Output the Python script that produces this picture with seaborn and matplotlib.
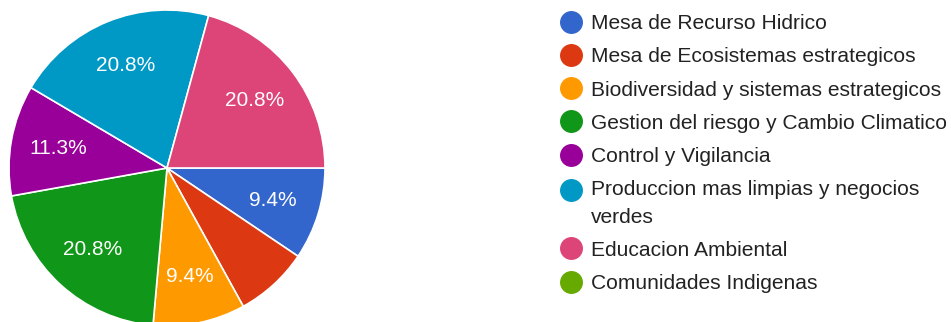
import matplotlib
matplotlib.use("Agg")
import matplotlib.pyplot as plt
from matplotlib.lines import Line2D
from matplotlib.legend_handler import HandlerLine2D
import seaborn as sns

# Categories and response counts
categories = [
    "Mesa de Recurso Hidrico",
    "Mesa de Ecosistemas estrategicos",
    "Biodiversidad y sistemas estrategicos",
    "Gestion del riesgo y Cambio Climatico",
    "Control y Vigilancia",
    "Produccion mas limpias y negocios\nverdes",
    "Educacion Ambiental",
    "Comunidades Indigenas",
]
counts = [5, 4, 5, 11, 6, 11, 11, 0]
colors = ["#3366CC", "#DC3912", "#FF9900", "#109618",
          "#990099", "#0099C6", "#DD4477", "#66AA00"]

sns.set_theme(style="white")
plt.rcParams["font.family"] = ["Liberation Sans", "DejaVu Sans"]
palette = sns.color_palette(colors)

W, H = 951, 322
fig = plt.figure(figsize=(W / 100, H / 100), dpi=100)
fig.patch.set_facecolor("white")

# Pie axes: centre (167, 168) px from top-left, radius 158 px
cx, cy, r = 167, 168, 158
ax = fig.add_axes([(cx - r) / W, (H - cy - r) / H, 2 * r / W, 2 * r / H])


def pct_label(p):
    return f"{p:.1f}%" if p >= 8 else ""


nonzero = [(c, col) for c, col in zip(counts, palette) if c > 0]
wedges, texts, autotexts = ax.pie(
    [c for c, _ in nonzero],
    colors=[col for _, col in nonzero],
    startangle=0,
    counterclock=False,
    autopct=pct_label,
    pctdistance=0.70,
    radius=1.0,
    wedgeprops=dict(edgecolor="white", linewidth=1.2),
    textprops=dict(color="white", fontsize=15),
)
ax.set_xlim(-1, 1)
ax.set_ylim(-1, 1)
ax.set_aspect("equal")
ax.axis("off")


class FirstLineHandler(HandlerLine2D):
    """Keep the marker level with the first line of a wrapped label."""

    def __init__(self, n_lines, line_step, **kw):
        super().__init__(**kw)
        self.shift = (n_lines - 1) * line_step / 2

    def create_artists(self, legend, orig_handle, xdescent, ydescent,
                       width, height, fontsize, trans):
        arts = super().create_artists(legend, orig_handle, xdescent, ydescent,
                                      width, height, fontsize, trans)
        for a in arts:
            a.set_ydata([y + self.shift for y in a.get_ydata()])
        return arts


# Legend
handles = [
    Line2D([0], [0], marker="o", linestyle="none", markersize=15.5,
           markerfacecolor=col, markeredgecolor=col)
    for col in palette
]
handler_map = {
    h: FirstLineHandler(lab.count("\n") + 1, 19.5)
    for h, lab in zip(handles, categories) if "\n" in lab
}
leg = fig.legend(
    handles, categories,
    loc="upper left",
    bbox_to_anchor=(561 / W, 1 - 14 / H),
    frameon=False,
    fontsize=15.1,
    handlelength=0.95,
    handletextpad=0.5,
    labelspacing=0.68,
    borderpad=0,
    borderaxespad=0,
    handler_map=handler_map,
)
for t in leg.get_texts():
    t.set_color("#222222")
    t.set_linespacing(1.55)

fig.savefig("out.png", dpi=100)
